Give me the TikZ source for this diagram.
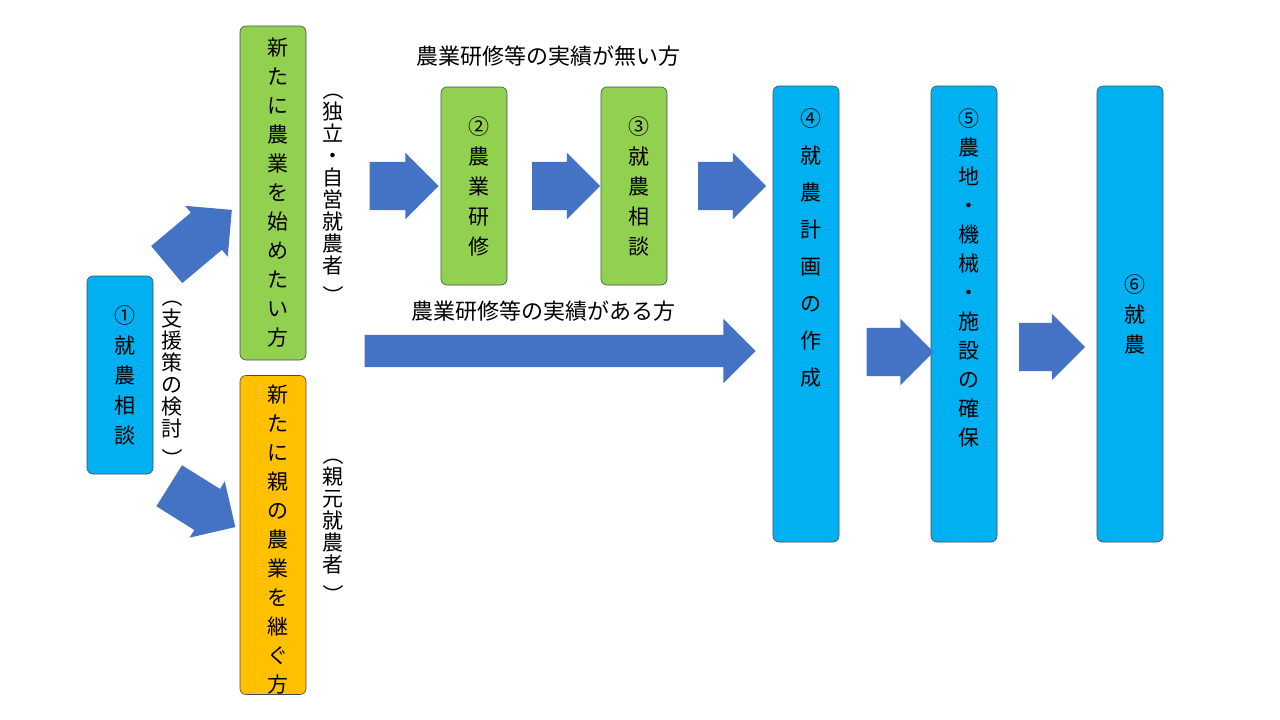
\documentclass[tikz,border=0pt]{standalone}
\usepackage{fontspec}
\setmainfont{Noto Sans CJK JP}
\usetikzlibrary{shapes.arrows}
\definecolor{stepblue}{HTML}{00B0F0}
\definecolor{stepgreen}{HTML}{92D050}
\definecolor{steporange}{HTML}{FFC000}
\definecolor{arrowblue}{HTML}{4472C4}
\newcommand{\vstack}[4][t]{\parbox[c][#2][#1]{1.2em}{\centering\fontsize{21}{#3}\selectfont #4}}
\newcommand{\vparen}[1]{\rotatebox{-90}{#1}}

\begin{document}
\begin{tikzpicture}[
    x=1pt, y=-1pt,
    box/.style = {draw = black!70, rounded corners = 6pt, line width = 0.6pt,
        minimum width = 66pt, inner sep = 0pt},
    flow/.style = {single arrow, fill = arrowblue, draw = none, inner xsep = 0pt,
        inner ysep = 24pt, single arrow head extend = 9pt,
        single arrow head indent = 0pt},
    note/.style = {inner sep = 0pt, font = \fontsize{22}{24}\selectfont}
]
\useasboundingbox (0,0) rectangle (1280,720);

% steps
\node[box, fill = stepblue, minimum height = 198pt] (consult) at (120,375)
    {\vstack[c]{150pt}{30pt}{①\\就\\農\\相\\談}};
\node[box, fill = stepgreen, minimum height = 334pt] (newfarm) at (273,193)
    {\vstack{310pt}{29pt}{新\\た\\に\\農\\業\\を\\始\\め\\た\\い\\方}};
\node[box, fill = steporange, minimum height = 319pt] (family) at (273,535)
    {\vstack{300pt}{29pt}{新\\た\\に\\親\\の\\農\\業\\を\\継\\ぐ\\方}};
\node[box, fill = stepgreen, minimum height = 198pt] (training) at (474,186)
    {\vstack[c]{150pt}{30pt}{②\\農\\業\\研\\修}};
\node[box, fill = stepgreen, minimum height = 198pt] (consult2) at (634,186)
    {\vstack[c]{150pt}{30pt}{③\\就\\農\\相\\談}};
\node[box, fill = stepblue, minimum height = 456pt] (plan) at (806,314)
    {\vstack{410pt}{37pt}{④\\就\\農\\計\\画\\の\\作\\成}};
\node[box, fill = stepblue, minimum height = 456pt] (land) at (964,314)
    {\vstack{410pt}{29pt}{⑤\\農\\地\\・\\機\\械\\・\\施\\設\\の\\確\\保}};
\node[box, fill = stepblue, minimum height = 456pt] (start) at (1130,314)
    {\vstack[c]{100pt}{30pt}{⑥\\就\\農}};

% side notes
\node[note, align = center] (support) at (172,378)
    {\vstack[c]{175pt}{22pt}{\vparen{（}\\支\\援\\策\\の\\検\\討\\[-10pt]\vparen{）}}};
\node[note, align = center] (indep) at (333,193)
    {\vstack[c]{225pt}{22pt}{\vparen{（}\\独\\立\\・\\自\\営\\就\\農\\者\\[-10pt]\vparen{）}}};
\node[note, align = center] (oyamoto) at (333,525)
    {\vstack[c]{155pt}{22pt}{\vparen{（}\\親\\元\\就\\農\\者\\[-10pt]\vparen{）}}};
\node[note] (nohist) at (548,56) {農業研修等の実績が無い方};
\node[note] (hist) at (543,311) {農業研修等の実績がある方};

% flow arrows
\node[flow, minimum height = 85pt, rotate = 40] (up) at (190,245) {};
\node[flow, minimum height = 78pt, rotate = -32] (down) at (192,500) {};
\node[flow, minimum height = 69pt] (a1) at (392,186) {};
\node[flow, minimum height = 68pt] (a2) at (554,186) {};
\node[flow, minimum height = 68pt] (a3) at (720,186) {};
\node[flow, minimum height = 391pt, inner ysep = 16pt,
    single arrow head extend = 16pt] (along) at (552,351) {};
\node[flow, minimum height = 67pt] (a4) at (888,352) {};
\node[flow, minimum height = 66pt] (a5) at (1040,347) {};
\end{tikzpicture}
\end{document}
